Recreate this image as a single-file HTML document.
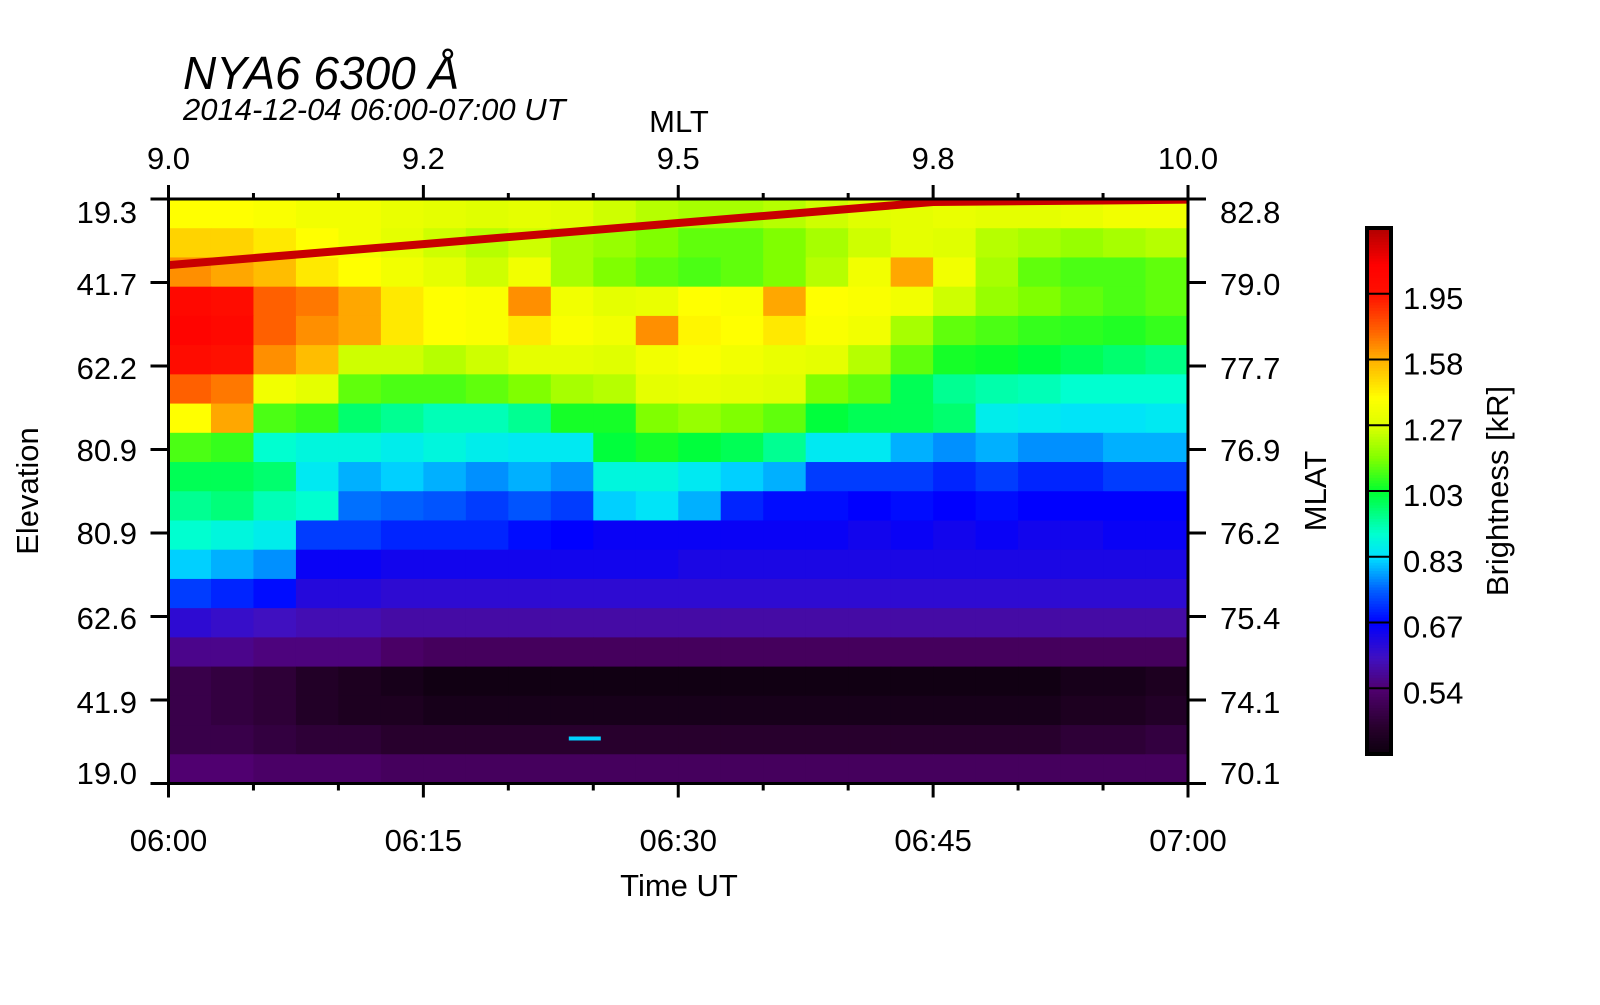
<!DOCTYPE html>
<html><head><meta charset="utf-8"><style>
html,body{margin:0;padding:0;background:#fff;}
svg text{font-family:"Liberation Sans",Arial,sans-serif;fill:#000;}
</style></head><body>
<svg id="chart" width="1600" height="1000" viewBox="0 0 1600 1000" xmlns="http://www.w3.org/2000/svg">
<defs><clipPath id="plotclip"><rect x="168.5" y="199" width="1019.5" height="584.5"/></clipPath></defs>
<g id="heat" clip-path="url(#plotclip)"></g>
<g id="axes"></g>
<g id="cbar"></g>
<text x="183" y="89" font-size="46" font-style="italic">NYA6 6300 Å</text>
<text x="183" y="120" font-size="31" font-style="italic">2014-12-04 06:00-07:00 UT</text>
<text x="679" y="132" font-size="31" text-anchor="middle">MLT</text>
<text x="679" y="896" font-size="31" text-anchor="middle">Time UT</text>
<text transform="translate(38,491) rotate(-90)" font-size="31" text-anchor="middle">Elevation</text>
<text transform="translate(1326,491) rotate(-90)" font-size="31" text-anchor="middle">MLAT</text>
<text transform="translate(1508,491) rotate(-90)" font-size="31" text-anchor="middle">Brightness [kR]</text>
</svg>
<script>
const timeTicks = ["06:00","06:15","06:30","06:45","07:00"];
const mltTicks = ["9.0","9.2","9.5","9.8","10.0"];
const elevTicks = ["19.3","41.7","62.2","80.9","80.9","62.6","41.9","19.0"];
const mlatTicks = ["82.8","79.0","77.7","76.9","76.2","75.4","74.1","70.1"];
const cbarTicks = [0.54,0.67,0.83,1.03,1.27,1.58,1.95];
const cbarLabels = ["0.54","0.67","0.83","1.03","1.27","1.58","1.95"];
const grid = [
[1.40,1.40,1.38,1.35,1.35,1.32,1.30,1.28,1.30,1.28,1.25,1.22,1.20,1.20,1.22,1.25,1.28,1.30,1.32,1.30,1.30,1.32,1.35,1.35],
[1.50,1.50,1.45,1.40,1.35,1.30,1.25,1.22,1.25,1.20,1.18,1.15,1.12,1.12,1.15,1.20,1.25,1.30,1.28,1.22,1.20,1.18,1.20,1.22],
[1.65,1.60,1.55,1.45,1.40,1.35,1.30,1.25,1.35,1.20,1.15,1.12,1.10,1.12,1.15,1.22,1.35,1.60,1.35,1.20,1.12,1.10,1.10,1.12],
[2.05,2.00,1.75,1.70,1.60,1.45,1.40,1.38,1.65,1.35,1.30,1.32,1.40,1.38,1.60,1.40,1.38,1.35,1.25,1.18,1.15,1.12,1.10,1.12],
[2.10,2.05,1.75,1.65,1.60,1.45,1.40,1.38,1.45,1.38,1.35,1.65,1.42,1.40,1.45,1.38,1.35,1.20,1.12,1.10,1.08,1.07,1.06,1.08],
[2.00,1.95,1.65,1.55,1.25,1.25,1.22,1.25,1.30,1.30,1.28,1.35,1.38,1.35,1.32,1.30,1.22,1.12,1.05,1.04,1.02,1.00,0.98,0.96],
[1.75,1.70,1.35,1.30,1.12,1.10,1.10,1.12,1.15,1.20,1.22,1.30,1.32,1.30,1.28,1.15,1.12,1.00,0.95,0.93,0.92,0.90,0.90,0.90],
[1.40,1.60,1.10,1.08,0.98,0.95,0.92,0.92,0.95,1.05,1.05,1.15,1.18,1.15,1.12,1.02,1.00,1.00,0.98,0.86,0.85,0.84,0.84,0.85],
[1.10,1.08,0.90,0.88,0.88,0.86,0.88,0.86,0.85,0.85,1.02,1.05,1.02,1.00,0.95,0.85,0.85,0.80,0.78,0.80,0.78,0.78,0.80,0.80],
[1.00,1.00,0.98,0.85,0.80,0.82,0.80,0.78,0.80,0.78,0.88,0.88,0.85,0.82,0.80,0.72,0.72,0.72,0.70,0.72,0.70,0.70,0.72,0.72],
[0.95,0.97,0.92,0.90,0.76,0.75,0.74,0.72,0.74,0.72,0.82,0.84,0.80,0.70,0.68,0.68,0.67,0.68,0.67,0.68,0.67,0.67,0.67,0.67],
[0.90,0.88,0.86,0.72,0.72,0.70,0.70,0.70,0.68,0.67,0.66,0.66,0.66,0.66,0.66,0.66,0.65,0.66,0.65,0.66,0.65,0.65,0.66,0.66],
[0.82,0.80,0.78,0.66,0.66,0.65,0.65,0.65,0.65,0.65,0.65,0.65,0.64,0.64,0.64,0.64,0.64,0.64,0.64,0.64,0.64,0.64,0.64,0.64],
[0.72,0.70,0.68,0.63,0.63,0.62,0.62,0.62,0.62,0.62,0.62,0.62,0.62,0.62,0.62,0.62,0.62,0.62,0.62,0.62,0.62,0.62,0.62,0.62],
[0.62,0.61,0.60,0.59,0.59,0.58,0.58,0.58,0.58,0.58,0.58,0.58,0.58,0.58,0.58,0.58,0.58,0.58,0.58,0.58,0.58,0.58,0.58,0.58],
[0.56,0.56,0.55,0.55,0.55,0.53,0.52,0.52,0.52,0.52,0.52,0.52,0.52,0.52,0.52,0.52,0.52,0.52,0.52,0.52,0.52,0.52,0.52,0.52],
[0.50,0.49,0.48,0.46,0.45,0.44,0.43,0.43,0.43,0.43,0.43,0.43,0.43,0.43,0.43,0.43,0.43,0.43,0.43,0.43,0.43,0.44,0.44,0.45],
[0.50,0.49,0.48,0.46,0.45,0.45,0.44,0.44,0.44,0.44,0.44,0.44,0.44,0.44,0.44,0.44,0.44,0.44,0.44,0.44,0.44,0.45,0.45,0.46],
[0.50,0.50,0.49,0.48,0.48,0.47,0.47,0.47,0.47,0.47,0.47,0.47,0.47,0.47,0.47,0.47,0.47,0.47,0.47,0.47,0.47,0.48,0.48,0.49],
[0.54,0.54,0.53,0.53,0.53,0.52,0.52,0.52,0.52,0.52,0.52,0.52,0.52,0.52,0.52,0.52,0.52,0.52,0.52,0.52,0.52,0.52,0.52,0.52]
];
const lineMinutes = [0,15,30,45,60];
const lineFrac = [0.108,0.072,0.036,0.0,-0.004];
const blipMinute = [24.5];
const blipFrac = [0.923];

const L=168.5,R=1188,T=199,B=783.5,W=R-L,H=B-T;
const NS="http://www.w3.org/2000/svg";
const xOf=m=>L+m/60*W;
const yOf=f=>T+f*H;
const stops=[[0.40,[0,0,0]],[0.47,[40,0,45]],[0.54,[80,0,112]],[0.60,[64,16,192]],[0.67,[0,0,255]],[0.75,[0,96,255]],[0.83,[0,224,255]],[0.90,[0,255,208]],[1.03,[0,255,48]],[1.15,[128,255,0]],[1.27,[221,255,0]],[1.40,[255,255,0]],[1.58,[255,176,0]],[1.75,[255,96,0]],[1.95,[255,16,0]],[2.15,[255,0,0]],[2.40,[176,0,0]]];
function col(v){
  if(v<=stops[0][0])return "rgb(0,0,0)";
  for(let i=1;i<stops.length;i++){
    if(v<=stops[i][0]){const a=stops[i-1],b=stops[i],t=(v-a[0])/(b[0]-a[0]);
      return "rgb("+a[1].map((c,k)=>Math.round(c+(b[1][k]-c)*t)).join(",")+")";}
  }
  return "rgb(176,0,0)";
}
function el(tag,attrs,parent){const e=document.createElementNS(NS,tag);for(const k in attrs)e.setAttribute(k,attrs[k]);parent.appendChild(e);return e;}
const heat=document.getElementById('heat');
const nr=grid.length,nc=grid[0].length;
for(let r=0;r<nr;r++)for(let c=0;c<nc;c++){
  const x0=xOf(c*60/nc),x1=xOf((c+1)*60/nc),y0=yOf(r/nr),y1=yOf((r+1)/nr);
  const e=el('rect',{x:x0,y:y0,width:x1-x0+0.6,height:y1-y0+0.6,fill:col(grid[r][c])},heat);
  
  
}
let d="";
lineMinutes.forEach((m,i)=>{d+=(i?"L":"M")+xOf(m)+","+(yOf(lineFrac[i])+3);});
const ln=el('path',{d:d,stroke:"#c80000","stroke-width":8,fill:"none"},heat);


blipMinute.forEach((m,i)=>{
  const b=el('rect',{x:xOf(m)-16,y:yOf(blipFrac[i])-2,width:32,height:4,fill:"#00d0ff"},heat);
  
  
});
const ax=document.getElementById('axes');
el('rect',{x:L,y:T,width:W,height:H,fill:"none",stroke:"#000","stroke-width":3},ax);
for(let i=0;i<=12;i++){
  const x=xOf(i*5),major=i%3===0;
  el('line',{x1:x,x2:x,y1:T-(major?14:6),y2:T,stroke:"#000","stroke-width":3},ax);
  el('line',{x1:x,x2:x,y1:B,y2:B+(major?14:7),stroke:"#000","stroke-width":3},ax);
}
timeTicks.forEach((s,i)=>{
  const t=el('text',{x:xOf(i*15),y:851,"font-size":31,"text-anchor":"middle"},ax);t.textContent=s;
  
  
});
mltTicks.forEach((s,i)=>{
  const t=el('text',{x:xOf(i*15),y:169,"font-size":31,"text-anchor":"middle"},ax);t.textContent=s;
  
  
});
const labY=[212,284,368,450,533,618,702,773];
for(let i=0;i<8;i++){
  const y=T+i*H/7;
  el('line',{x1:L-18,x2:L,y1:y,y2:y,stroke:"#000","stroke-width":3},ax);
  el('line',{x1:R,x2:R+18,y1:y,y2:y,stroke:"#000","stroke-width":3},ax);
  const t=el('text',{x:137,y:labY[i]+11,"font-size":31,"text-anchor":"end"},ax);t.textContent=elevTicks[i];
  
  
  const t2=el('text',{x:1220,y:labY[i]+11,"font-size":31},ax);t2.textContent=mlatTicks[i];
  
  
}
const cb=document.getElementById('cbar');
const CL=1367,CR=1391,CT=228,CB=754,vmin=0.42,vmax=2.40;
const levels=[vmin].concat(cbarTicks,[vmax]);
const nb=levels.length-1,bh=(CB-CT)/nb;
const cy=v=>{for(let i=0;i<nb;i++){if(v<=levels[i+1]||i===nb-1){return CB-(i+(v-levels[i])/(levels[i+1]-levels[i]))*bh;}}};
for(let i=0;i<nb;i++){
  const steps=24;
  for(let s=0;s<steps;s++){
    const v=levels[i]+(s+0.5)/steps*(levels[i+1]-levels[i]);
    el('rect',{x:CL,y:CB-(i+(s+1)/steps)*bh,width:CR-CL,height:bh/steps+0.6,fill:col(v)},cb);
  }
}
el('rect',{x:CL,y:CT,width:CR-CL,height:CB-CT,fill:"none",stroke:"#000","stroke-width":4},cb);
cbarTicks.forEach((v,i)=>{
  const y=cy(v);
  el('line',{x1:CL,x2:CR,y1:y,y2:y,stroke:"#000","stroke-width":2},cb);
  const t=el('text',{x:1403,y:y+15,"font-size":31},cb);t.textContent=cbarLabels[i];
  
  
});
</script>
</body></html>
